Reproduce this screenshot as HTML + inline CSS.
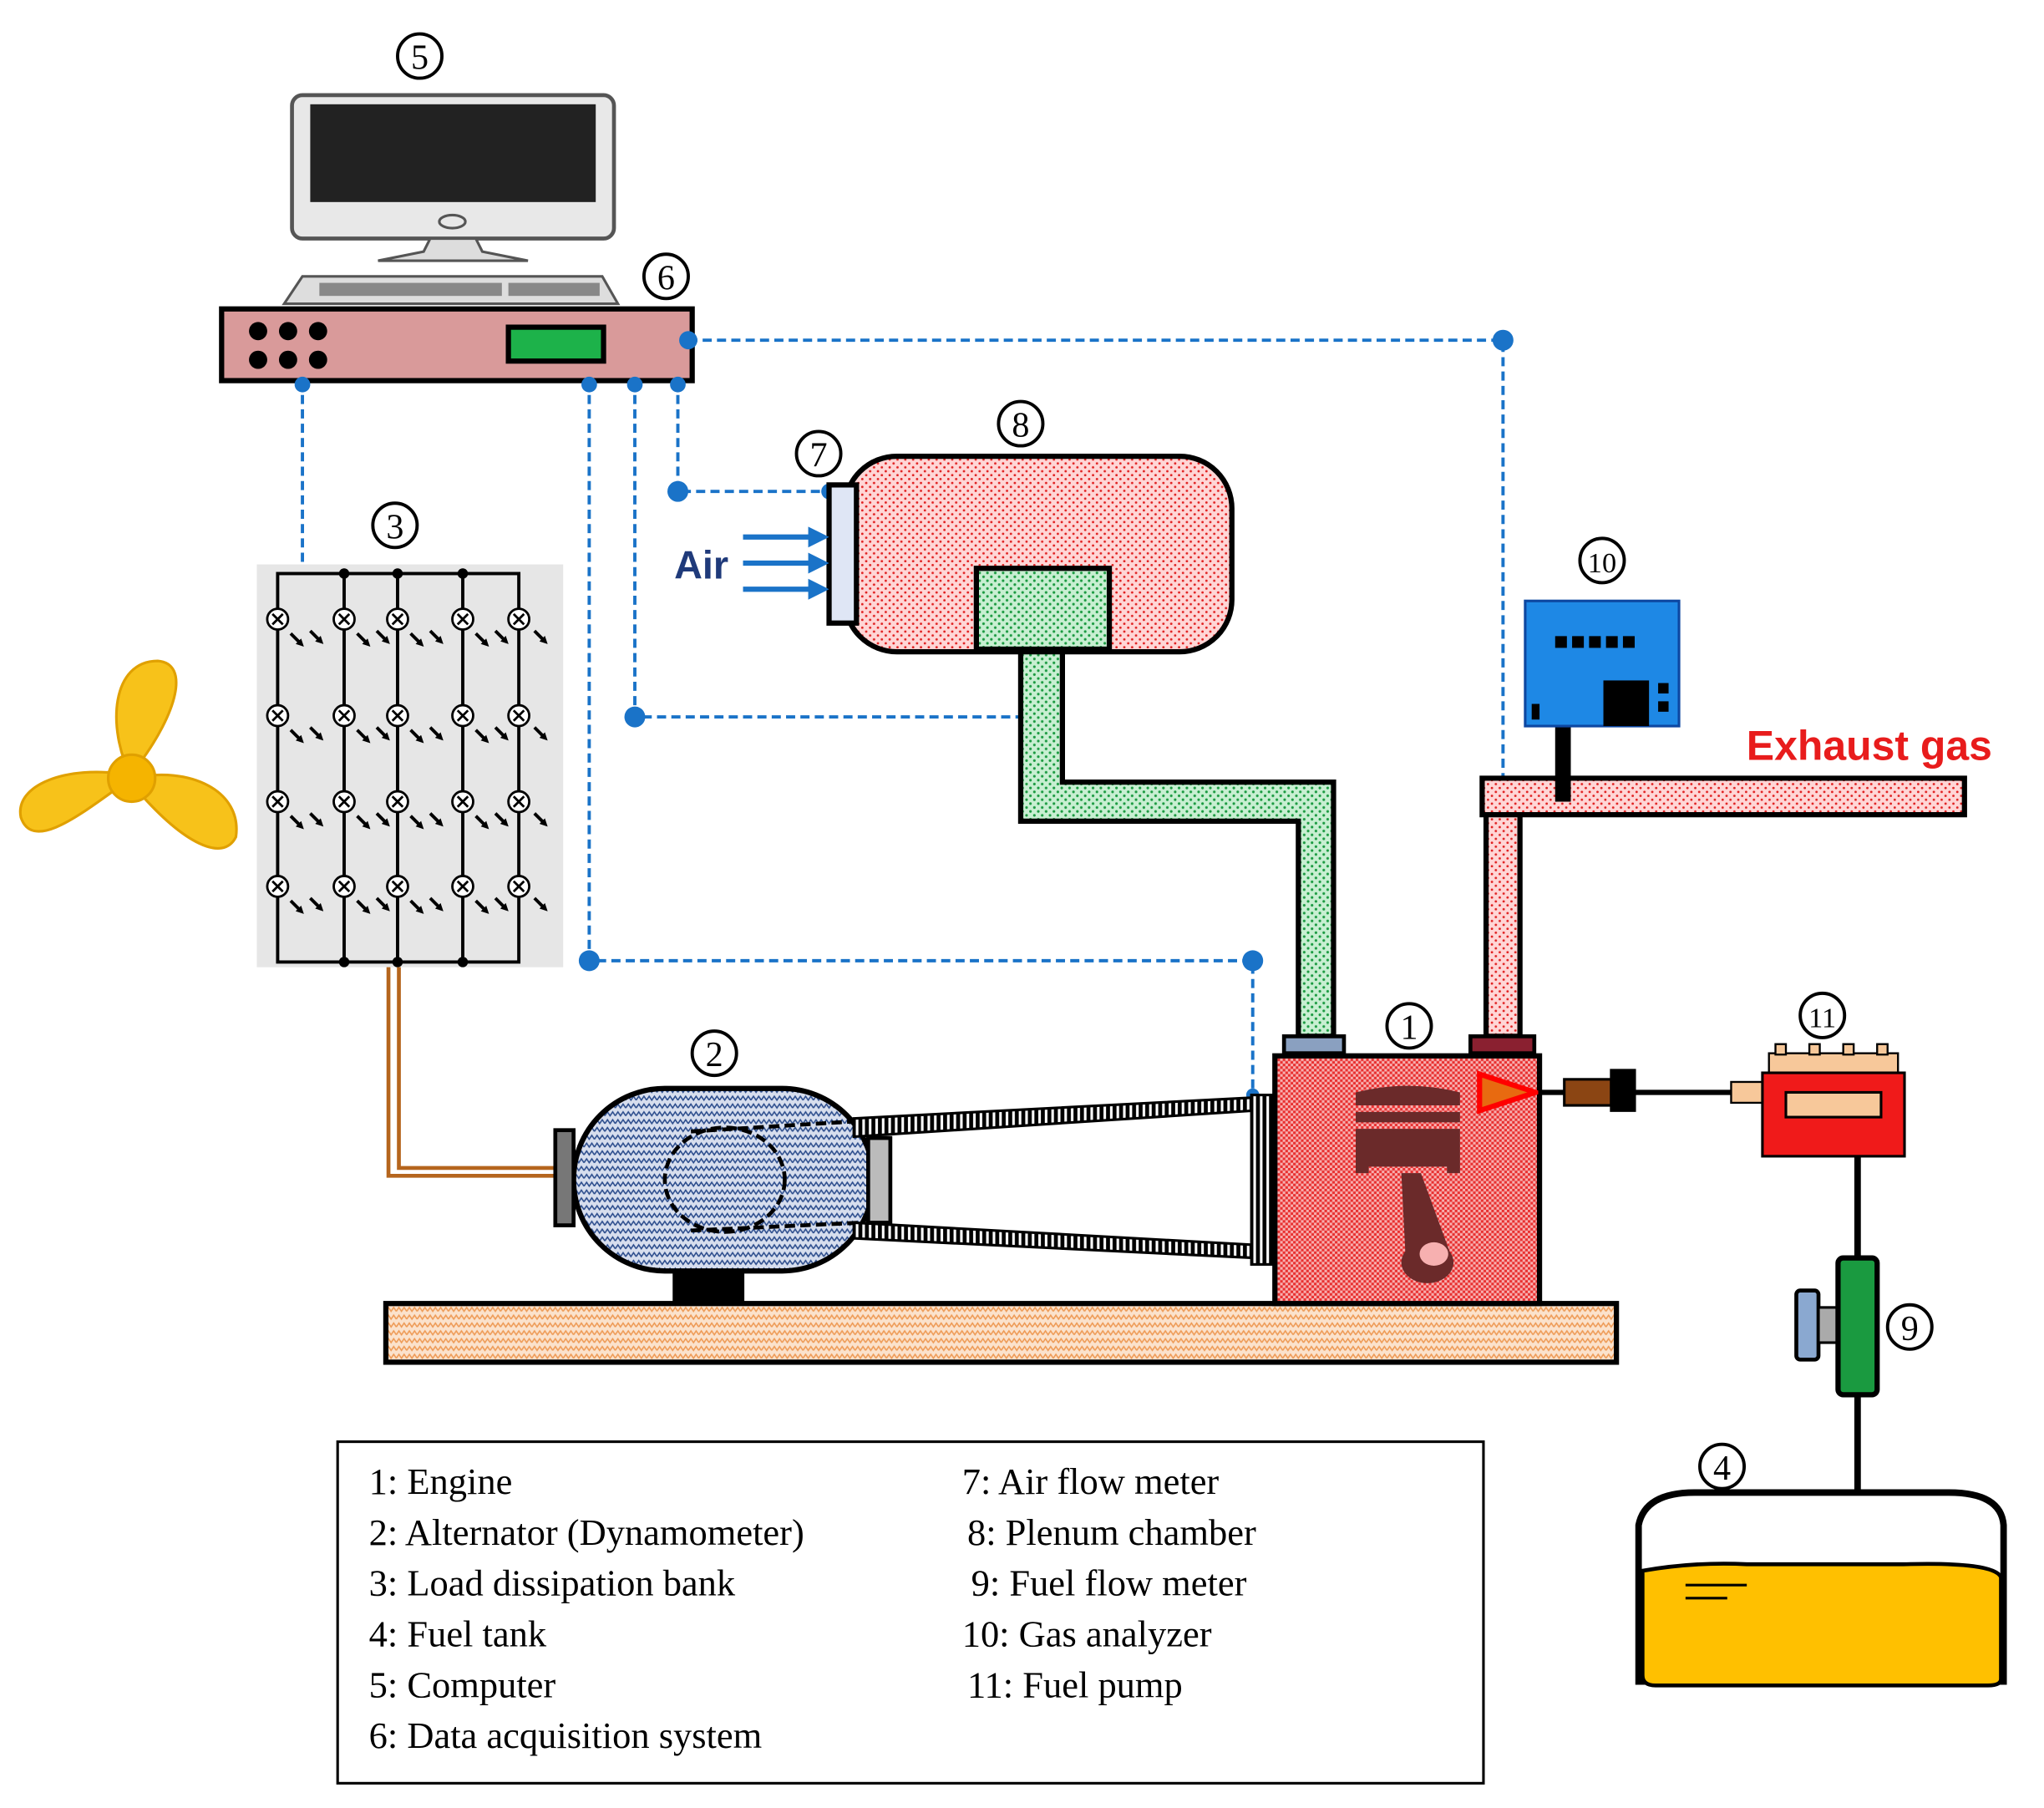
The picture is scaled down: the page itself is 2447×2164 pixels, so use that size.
<!DOCTYPE html>
<html><head><meta charset="utf-8"><style>html,body{margin:0;padding:0;background:#fff}svg{display:block}</style></head>
<body>
<svg width="2447" height="2164" viewBox="0 0 1568 1387" preserveAspectRatio="none" xmlns="http://www.w3.org/2000/svg">
<defs>
<pattern id="pink" width="6" height="6" patternUnits="userSpaceOnUse"><rect width="6" height="6" fill="#ffd6d6"/><circle cx="1.5" cy="1.5" r="0.9" fill="#e02020"/><circle cx="4.5" cy="4.5" r="0.9" fill="#e02020"/></pattern>
<pattern id="green" width="6" height="6" patternUnits="userSpaceOnUse"><rect width="6" height="6" fill="#c8efd2"/><circle cx="1.5" cy="1.5" r="1" fill="#1a9a40"/><circle cx="4.5" cy="4.5" r="1" fill="#1a9a40"/></pattern>
<pattern id="eng" width="4" height="4" patternUnits="userSpaceOnUse"><rect width="4" height="4" fill="#f7b0b0"/><rect width="2" height="2" fill="#e83030"/><rect x="2" y="2" width="2" height="2" fill="#e83030"/></pattern>
<pattern id="blue" width="8" height="6" patternUnits="userSpaceOnUse"><rect width="8" height="6" fill="#d7deee"/><path d="M0 4 L2 1 L4 4 L6 1 L8 4" stroke="#2b4c8c" stroke-width="1" fill="none"/></pattern>
<pattern id="base" width="8" height="6" patternUnits="userSpaceOnUse"><rect width="8" height="6" fill="#fbe2cc"/><path d="M0 4 L2 1 L4 4 L6 1 L8 4" stroke="#ee9a55" stroke-width="1" fill="none"/></pattern>
<pattern id="belt" width="5" height="5" patternUnits="userSpaceOnUse"><rect width="5" height="5" fill="#000"/><rect x="1.5" width="2" height="5" fill="#fff"/></pattern>
<marker id="ah" markerWidth="6" markerHeight="6" refX="3" refY="3" orient="auto" markerUnits="userSpaceOnUse"><path d="M0 0 L6 3 L0 6Z" fill="#000"/></marker>
</defs>
<g font-family="Liberation Serif, serif" font-size="30" text-anchor="middle">
<g fill="none" stroke="#000" stroke-width="2.5">
<circle cx="322" cy="43" r="17"/><circle cx="511" cy="212" r="17"/><circle cx="628" cy="348" r="17"/><circle cx="783" cy="325" r="17"/><circle cx="303" cy="403" r="17"/><circle cx="1229" cy="430" r="17"/><circle cx="548" cy="808" r="17"/><circle cx="1081" cy="787" r="17"/><circle cx="1398" cy="779" r="17"/><circle cx="1465" cy="1018" r="17"/><circle cx="1321" cy="1125" r="17"/></g>
<g font-size="27"><text x="322" y="53">5</text><text x="511" y="222">6</text><text x="628" y="358">7</text><text x="783" y="335">8</text><text x="303" y="413">3</text><text x="1229" y="439" font-size="22">10</text><text x="548" y="818">2</text><text x="1081" y="797">1</text><text x="1398" y="788" font-size="22">11</text><text x="1465" y="1028">9</text><text x="1321" y="1135">4</text></g>
</g>
<!-- monitor -->
<rect x="224" y="73" width="247" height="110" rx="8" fill="#e8e8e8" stroke="#555" stroke-width="3"/>
<rect x="238" y="80" width="219" height="75" fill="#222"/>
<ellipse cx="347" cy="170" rx="10" ry="5" fill="none" stroke="#555" stroke-width="2"/>
<path d="M330 183 L365 183 L370 193 L405 200 L290 200 L325 193Z" fill="#ddd" stroke="#555" stroke-width="2"/>
<path d="M232 212 L462 212 L474 233 L218 233Z" fill="#ddd" stroke="#555" stroke-width="2"/>
<rect x="245" y="217" width="140" height="10" fill="#888"/><rect x="390" y="217" width="70" height="10" fill="#888"/>
<!-- DAQ -->
<rect x="170" y="237" width="361" height="55" fill="#d99a9a" stroke="#000" stroke-width="4"/>
<g fill="#000"><circle cx="198" cy="254" r="7"/><circle cx="221" cy="254" r="7"/><circle cx="244" cy="254" r="7"/><circle cx="198" cy="276" r="7"/><circle cx="221" cy="276" r="7"/><circle cx="244" cy="276" r="7"/></g>
<rect x="390" y="251" width="73" height="26" fill="#1db24a" stroke="#000" stroke-width="4"/>
<!-- dashed lines -->
<g stroke="#1a73c8" stroke-width="2.5" stroke-dasharray="7,4" fill="none">
<path d="M528 261 H1153 V600"/><path d="M232 292 V433"/><path d="M452 292 V737 H961 V840"/><path d="M487 292 V550 H795"/><path d="M520 292 V377 H636"/></g>
<g fill="#1a73c8"><circle cx="528" cy="261" r="7"/><circle cx="1153" cy="261" r="8"/><circle cx="232" cy="295" r="6"/><circle cx="452" cy="295" r="6"/><circle cx="487" cy="295" r="6"/><circle cx="520" cy="295" r="6"/><circle cx="452" cy="737" r="8"/><circle cx="961" cy="737" r="8"/><circle cx="487" cy="550" r="8"/><circle cx="795" cy="550" r="7"/><circle cx="520" cy="377" r="8"/><circle cx="636" cy="377" r="6"/><circle cx="961" cy="840" r="5"/></g>
<!-- load bank -->
<rect x="197" y="433" width="235" height="309" fill="#e6e6e6"/>
<rect x="213" y="440" width="185" height="298" fill="none" stroke="#000" stroke-width="2.5"/>
<g stroke="#000" stroke-width="2.5"><line x1="264" y1="440" x2="264" y2="738"/><line x1="305" y1="440" x2="305" y2="738"/><line x1="355" y1="440" x2="355" y2="738"/></g>
<g fill="#000"><circle cx="264" cy="440" r="4"/><circle cx="305" cy="440" r="4"/><circle cx="355" cy="440" r="4"/><circle cx="264" cy="738" r="4"/><circle cx="305" cy="738" r="4"/><circle cx="355" cy="738" r="4"/></g>
<g id="cells" fill="#fff" stroke="#000" stroke-width="1.8">
<g id="row">
<circle cx="213" cy="475" r="8"/><circle cx="264" cy="475" r="8"/><circle cx="305" cy="475" r="8"/><circle cx="355" cy="475" r="8"/><circle cx="398" cy="475" r="8"/>
<path d="M209 471l8 8M217 471l-8 8M260 471l8 8M268 471l-8 8M301 471l8 8M309 471l-8 8M351 471l8 8M359 471l-8 8M394 471l8 8M402 471l-8 8"/>
<g stroke-width="2.5" marker-end="url(#ah)"><path d="M223 486l8 8"/><path d="M238 484l8 8"/><path d="M274 486l8 8"/><path d="M289 484l8 8"/><path d="M315 486l8 8"/><path d="M330 484l8 8"/><path d="M365 486l8 8"/><path d="M380 484l8 8"/><path d="M410 484l8 8"/></g>
</g>
<use href="#row" y="74"/><use href="#row" y="140"/><use href="#row" y="205"/></g>
<!-- fan -->
<g transform="translate(101,597)" fill="#f7c21a" stroke="#e0a000" stroke-width="2">
<path d="M0 0 C-20 -40 -15 -90 20 -90 C45 -88 35 -50 5 -10Z"/>
<path d="M0 0 C45 -10 85 10 80 45 C70 65 40 50 5 10Z"/>
<path d="M0 0 C-30 20 -75 60 -85 30 C-90 5 -50 -10 -5 -3Z"/>
<circle r="18" fill="#f5b400"/></g>
<!-- wires -->
<path d="M298 742 V902 H430 M306 742 V896 H430" stroke="#b5651d" stroke-width="3" fill="none"/>
<!-- base -->
<rect x="296" y="1000" width="944" height="45" fill="url(#base)" stroke="#000" stroke-width="4"/>
<!-- alternator -->
<rect x="516" y="972" width="55" height="28" fill="#000"/>
<path d="M510 835 H600 A70 70 0 0 1 600 975 H510 A70 70 0 0 1 510 835Z" fill="url(#blue)" stroke="#000" stroke-width="4"/>
<rect x="426" y="867" width="14" height="73" fill="#777" stroke="#000" stroke-width="3"/>
<ellipse cx="556" cy="905" rx="46" ry="40" fill="none" stroke="#000" stroke-width="3" stroke-dasharray="8,4"/>
<path d="M530 868 L660 860 M530 944 L660 938" stroke="#000" stroke-width="3" stroke-dasharray="8,4"/>
<rect x="666" y="873" width="17" height="65" fill="#bbb" stroke="#000" stroke-width="3"/>
<!-- belt -->
<path d="M655 858 L962 842 L962 852 L655 872Z" fill="url(#belt)" stroke="#000" stroke-width="2"/>
<path d="M655 938 L962 955 L962 965 L655 950Z" fill="url(#belt)" stroke="#000" stroke-width="2"/>
<rect x="960" y="840" width="18" height="130" fill="url(#belt)" stroke="#000" stroke-width="2"/>
<!-- engine -->
<rect x="978" y="810" width="203" height="190" fill="url(#eng)" stroke="#000" stroke-width="4"/>
<g fill="#6b2a2a"><path d="M1040 838 Q1080 828 1120 838 V848 H1040Z"/><rect x="1040" y="853" width="80" height="8"/><path d="M1040 866 H1120 V900 H1110 V895 H1050 V900 H1040Z"/>
<path d="M1075 900 L1090 900 L1112 960 A20 16 0 1 1 1078 960Z"/><ellipse cx="1100" cy="962" rx="11" ry="9" fill="#f7b0b0"/></g>
<path d="M1135 824 L1178 838 L1135 852Z" fill="#e86a10" stroke="#f00" stroke-width="4"/>
<!-- plenum / intake -->
<path d="M783 498 V630 H996 V795 H1023 V600 H815 V498Z" fill="url(#green)" stroke="#000" stroke-width="4"/>
<rect x="985" y="795" width="46" height="13" fill="#8aa0c0" stroke="#000" stroke-width="3"/>
<rect x="648" y="350" width="297" height="150" rx="40" fill="url(#pink)" stroke="#000" stroke-width="4"/>
<rect x="749" y="436" width="102" height="62" fill="url(#green)" stroke="#000" stroke-width="4"/>
<rect x="636" y="372" width="21" height="106" fill="#dfe6f5" stroke="#000" stroke-width="4"/>
<text x="538" y="444" font-family="Liberation Sans, sans-serif" font-weight="bold" font-size="30" fill="#1f3a7a" text-anchor="middle">Air</text>
<g stroke="#1a73c8" stroke-width="4"><line x1="570" y1="412" x2="622" y2="412"/><line x1="570" y1="432" x2="622" y2="432"/><line x1="570" y1="452" x2="622" y2="452"/></g>
<g fill="#1a73c8"><path d="M620 404 L636 412 L620 420Z"/><path d="M620 424 L636 432 L620 440Z"/><path d="M620 444 L636 452 L620 460Z"/></g>
<!-- exhaust -->
<path d="M1140 795 V625 H1507 V597 H1137 V625 H1166 V795Z" fill="url(#pink)" stroke="#000" stroke-width="4"/>
<rect x="1128" y="795" width="49" height="13" fill="#8a2030" stroke="#000" stroke-width="3"/>
<rect x="1193" y="555" width="12" height="60" fill="#000"/>
<rect x="1170" y="461" width="118" height="96" fill="#1e88e5" stroke="#0d47a1" stroke-width="2"/>
<g fill="#000"><rect x="1193" y="488" width="9" height="9"/><rect x="1206" y="488" width="9" height="9"/><rect x="1219" y="488" width="9" height="9"/><rect x="1232" y="488" width="9" height="9"/><rect x="1245" y="488" width="9" height="9"/><rect x="1230" y="522" width="35" height="35"/><rect x="1272" y="524" width="8" height="8"/><rect x="1272" y="538" width="8" height="8"/><rect x="1175" y="540" width="6" height="12"/></g>
<text x="1434" y="583" font-family="Liberation Sans, sans-serif" font-weight="bold" font-size="32" fill="#e81c1c" text-anchor="middle">Exhaust gas</text>
<!-- fuel line -->
<line x1="1180" y1="838" x2="1330" y2="838" stroke="#000" stroke-width="4"/>
<rect x="1200" y="828" width="36" height="20" fill="#8b4513" stroke="#000" stroke-width="2"/>
<rect x="1235" y="820" width="20" height="33" fill="#000"/>
<rect x="1328" y="830" width="24" height="16" fill="#f7c89a" stroke="#000" stroke-width="1.5"/>
<line x1="1425" y1="887" x2="1425" y2="1145" stroke="#000" stroke-width="5"/>
<rect x="1357" y="808" width="99" height="15" fill="#f7c89a" stroke="#000" stroke-width="1.5"/>
<g fill="#f7c89a" stroke="#000" stroke-width="1.5"><rect x="1362" y="801" width="8" height="8"/><rect x="1388" y="801" width="8" height="8"/><rect x="1414" y="801" width="8" height="8"/><rect x="1440" y="801" width="8" height="8"/></g>
<rect x="1352" y="823" width="109" height="64" fill="#f01a1a" stroke="#000" stroke-width="2"/>
<rect x="1370" y="838" width="73" height="19" fill="#f7c89a" stroke="#000" stroke-width="2"/>
<rect x="1378" y="990" width="17" height="53" rx="3" fill="#8aa8d0" stroke="#000" stroke-width="3"/>
<rect x="1395" y="1003" width="15" height="27" fill="#aaa" stroke="#000" stroke-width="2"/>
<rect x="1410" y="965" width="30" height="105" rx="4" fill="#1a9a40" stroke="#000" stroke-width="4"/>
<!-- tank -->
<path d="M1257 1290 V1170 Q1262 1145 1300 1145 H1495 Q1535 1145 1537 1170 V1290Z" fill="#fff" stroke="#000" stroke-width="5"/>
<path d="M1260 1205 Q1300 1198 1340 1200 H1460 Q1530 1198 1535 1210 V1288 Q1535 1293 1525 1293 H1270 Q1260 1293 1260 1285Z" fill="#ffc000" stroke="#000" stroke-width="3"/>
<path d="M1293 1216 H1340 M1293 1226 H1325" stroke="#000" stroke-width="2"/>
<!-- legend -->
<rect x="259" y="1106" width="879" height="262" fill="#fff" stroke="#000" stroke-width="2"/>
<g font-family="Liberation Serif, serif" font-size="28.5" fill="#000">
<text x="283" y="1146">1: Engine</text><text x="283" y="1185">2: Alternator (Dynamometer)</text><text x="283" y="1224">3: Load dissipation bank</text><text x="283" y="1263">4: Fuel tank</text><text x="283" y="1302">5: Computer</text><text x="283" y="1341">6: Data acquisition system</text>
<text x="738" y="1146">7: Air flow meter</text><text x="742" y="1185">8: Plenum chamber</text><text x="745" y="1224">9: Fuel flow meter</text><text x="738" y="1263">10: Gas analyzer</text><text x="742" y="1302">11: Fuel pump</text></g>
</svg>
</body></html>
